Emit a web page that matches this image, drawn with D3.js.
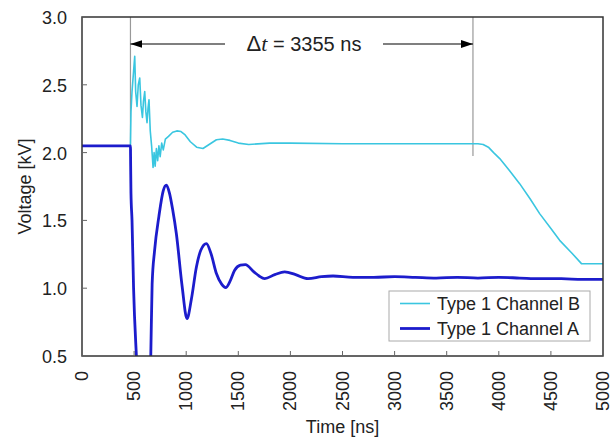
<!DOCTYPE html>
<html><head><meta charset="utf-8">
<script src="https://cdn.jsdelivr.net/npm/d3@7"></script>
<style>body{margin:0;background:#fff}svg{display:block;font-family:"Liberation Sans",Arial,sans-serif}</style>
</head><body><svg id="c" width="612" height="438"></svg>
<script>
const xTicks = [0,500,1000,1500,2000,2500,3000,3500,4000,4500,5000];
const yTicks = [0.5,1.0,1.5,2.0,2.5,3.0];
const seriesNames = ["Type 1 Channel B","Type 1 Channel A"];
const chanATime = [0,100,200,300,400,465,467,470,480,495,522,560,600,640,660,673,697,738,780,810,840,870,906,960,1008,1050,1098,1140,1194,1240,1290,1340,1379,1420,1465,1520,1568,1650,1700,1753,1850,1945,2050,2169,2300,2409,2600,2800,3000,3200,3400,3600,3800,4000,4200,4400,4600,4800,5000];
const chanAValue = [2.05,2.05,2.05,2.05,2.05,2.05,1.9,1.7,1.5,1.0,0.5,0.0,-0.1,0.0,0.5,1.03,1.28,1.53,1.72,1.76,1.70,1.58,1.40,1.02,0.776,0.92,1.156,1.28,1.329,1.25,1.108,1.03,1.004,1.05,1.132,1.17,1.174,1.12,1.09,1.071,1.10,1.12,1.10,1.07,1.085,1.09,1.08,1.08,1.085,1.08,1.075,1.08,1.075,1.08,1.075,1.07,1.07,1.065,1.065];
const chanBTime = [465,470,480,495,506,515,528,540,554,566,580,590,602,613,624,634,643,655,668,682,692,702,714,726,738,750,765,780,800,830,870,910,950,990,1040,1100,1161,1220,1290,1350,1420,1500,1600,1800,2000,2500,3000,3500,3800,3850,3900,3950,4009,4100,4200,4300,4392,4500,4584,4700,4793,4850,5000];
const chanBValue = [2.05,2.3,2.45,2.6,2.71,2.45,2.34,2.5,2.55,2.35,2.26,2.38,2.45,2.3,2.22,2.33,2.39,2.16,2.05,1.89,2.0,1.9,2.03,1.94,2.05,1.97,2.07,2.02,2.10,2.12,2.15,2.16,2.155,2.13,2.08,2.04,2.03,2.06,2.095,2.10,2.09,2.07,2.06,2.07,2.07,2.065,2.065,2.065,2.065,2.06,2.04,2.0,1.956,1.87,1.771,1.66,1.55,1.44,1.353,1.26,1.181,1.18,1.18];
const markerTimes = [465,3752];
const annotationText = "3355 ns";

const svg = d3.select("#c");
const L=82, R=603, T=17, B=356;
const x = d3.scaleLinear().domain([0,5000]).range([L,R]);
const y = d3.scaleLinear().domain([0.5,3.0]).range([B,T]);
const cA = "#1c1ccc", cB = "#3ac6e0";

const defs = svg.append("defs");
defs.append("clipPath").attr("id","clip").append("rect")
  .attr("x",L).attr("y",T).attr("width",R-L).attr("height",B-T);
defs.append("marker").attr("id","ah").attr("viewBox","0 0 12 8").attr("refX",12).attr("refY",4)
  .attr("markerWidth",12).attr("markerHeight",8).attr("markerUnits","userSpaceOnUse").attr("orient","auto")
  .append("path").attr("d","M0,0L12,4L0,8Z").attr("fill","#000");

// marker vertical lines
svg.append("line").attr("x1",x(markerTimes[0])).attr("x2",x(markerTimes[0])).attr("y1",T).attr("y2",y(2.05)).attr("stroke","#999").attr("stroke-width",1.2);
svg.append("line").attr("x1",x(markerTimes[1])).attr("x2",x(markerTimes[1])).attr("y1",T).attr("y2",y(2.07)+13).attr("stroke","#999").attr("stroke-width",1.2);

const lineB = d3.line().x(d=>x(d[0])).y(d=>y(d[1]));
const lineA = d3.line().x(d=>x(d[0])).y(d=>y(d[1])).curve(d3.curveMonotoneX);
const g = svg.append("g").attr("clip-path","url(#clip)");
g.append("path").attr("d",lineB(chanBTime.map((t,i)=>[t,chanBValue[i]]))).attr("fill","none").attr("stroke",cB).attr("stroke-width",1.6).attr("stroke-linejoin","round");
g.append("path").attr("d",lineA(chanATime.map((t,i)=>[t,chanAValue[i]]))).attr("fill","none").attr("stroke",cA).attr("stroke-width",2.8).attr("stroke-linejoin","round");

// frame
svg.append("rect").attr("x",L).attr("y",T).attr("width",R-L).attr("height",B-T).attr("fill","none").attr("stroke","#333").attr("stroke-width",1.5);

// ticks
svg.append("g").selectAll("line").data(yTicks).join("line")
  .attr("x1",L).attr("x2",L+5).attr("y1",d=>y(d)).attr("y2",d=>y(d)).attr("stroke","#666");
svg.append("g").selectAll("line").data(xTicks).join("line")
  .attr("x1",d=>x(d)).attr("x2",d=>x(d)).attr("y1",B).attr("y2",B-5).attr("stroke","#666");
svg.append("g").selectAll("text").data(yTicks).join("text")
  .attr("x",L-15).attr("y",d=>y(d)+7).attr("text-anchor","end").attr("font-size",18).attr("fill","#222")
  .text(d=>d3.format(".1f")(d));
svg.append("g").selectAll("text").data(xTicks).join("text")
  .attr("transform",d=>`translate(${x(d)+6},${B+15}) rotate(-90)`).attr("text-anchor","end").attr("font-size",18).attr("fill","#222")
  .text(d=>d);
svg.append("text").attr("x",(L+R)/2).attr("y",433).attr("text-anchor","middle").attr("font-size",18).attr("fill","#222").text("Time [ns]");
svg.append("text").attr("transform",`translate(31,${(T+B)/2}) rotate(-90)`).attr("text-anchor","middle").attr("font-size",18).attr("fill","#222").text("Voltage [kV]");

// annotation
const ay = 44;
svg.append("line").attr("x1",225).attr("x2",x(markerTimes[0])).attr("y1",ay).attr("y2",ay).attr("stroke","#000").attr("stroke-width",1.2).attr("marker-end","url(#ah)");
svg.append("line").attr("x1",383).attr("x2",x(markerTimes[1])).attr("y1",ay).attr("y2",ay).attr("stroke","#000").attr("stroke-width",1.2).attr("marker-end","url(#ah)");
const at = svg.append("text").attr("x",304).attr("y",ay+7).attr("text-anchor","middle").attr("font-size",20).attr("fill","#222");
at.append("tspan").attr("font-size",22).text("Δ");
at.append("tspan").attr("font-family","'Liberation Serif',serif").attr("font-style","italic").attr("font-size",22).text("t");
at.append("tspan").text(" = "+annotationText);

// legend
const lg = svg.append("g");
lg.append("rect").attr("x",389).attr("y",291).attr("width",201).attr("height",50).attr("fill","#fff").attr("stroke","#aaa");
[cB,cA].forEach((c,i)=>{
  const yy = 303.5 + i*25;
  lg.append("line").attr("x1",400).attr("x2",430).attr("y1",yy).attr("y2",yy).attr("stroke",c).attr("stroke-width",i?2.8:1.6);
  lg.append("text").attr("x",437).attr("y",yy+6.5).attr("font-size",18).attr("fill","#222").text(seriesNames[i]);
});
</script></body></html>
